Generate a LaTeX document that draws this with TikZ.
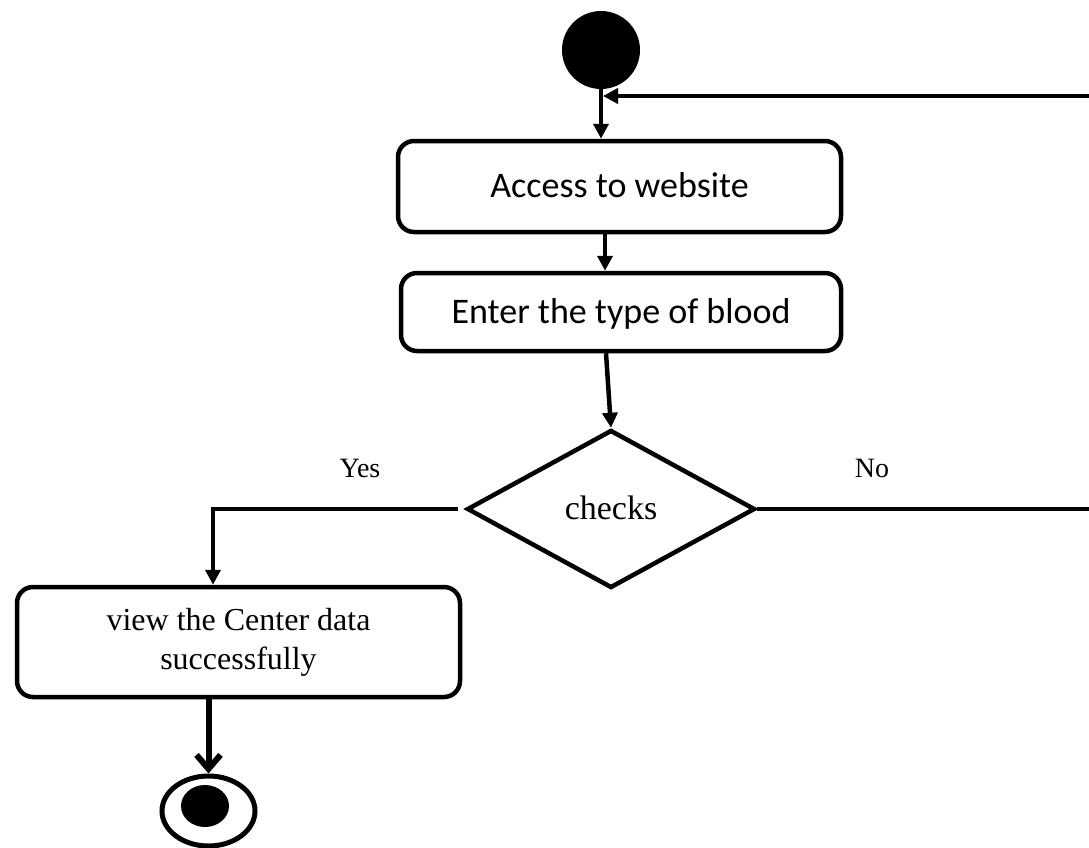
\documentclass[tikz,border=0pt]{standalone}
\usepackage{fontspec}
\setmainfont{Liberation Serif}
\newfontfamily\boxfont{Carlito}
\usetikzlibrary{shapes.geometric,arrows.meta}
\begin{document}
\begin{tikzpicture}[x=1pt,y=-1pt,
  act/.style={draw, line width=4.5pt, rounded corners=16pt, inner sep=0pt, align=center},
  topbox/.style={act, font=\boxfont\fontsize{36}{43}\selectfont, text depth=0.3em},
  flow/.style={line width=4.5pt, -{Triangle[length=15pt,width=15pt]}},
  plainline/.style={line width=4.5pt},
  endflow/.style={line width=6pt, -{Straight Barb[length=14pt,width=24pt]}},
  lbl/.style={font=\fontsize{28}{34}\selectfont, inner sep=0pt}
]
\useasboundingbox (0,0) rectangle (1089,847);

\node[circle, fill=black, minimum size=78pt, inner sep=0pt] (start) at (601,50) {};
\node[topbox, minimum width=443pt, minimum height=91pt] (a1) at (619.5,186.5) {Access to website};
\node[topbox, minimum width=440pt, minimum height=78pt] (a2) at (621,312) {Enter the type of blood};
\node[diamond, draw, line width=4.5pt, minimum width=288pt, minimum height=158pt, inner sep=0pt,
      font=\fontsize{34}{40}\selectfont, text depth=0.3em] (chk) at (611,509) {checks};
\node[act, minimum width=443pt, minimum height=110pt,
      font=\fontsize{32}{39}\selectfont] (a3) at (238.5,642) {view the Center data\\successfully};
\node[ellipse, draw, line width=5pt, minimum width=93pt, minimum height=70pt, inner sep=0pt] (fin) at (208.5,811) {};
\node[ellipse, fill=black, minimum width=48pt, minimum height=42pt, inner sep=0pt] (finin) at (205,806) {};

\node[lbl] (yes) at (360,468) {Yes};
\node[lbl] (no) at (872,468) {No};

\coordinate (rtlow) at (1089,509);
\coordinate (rthigh) at (1089,96);
\coordinate (loopin) at (603,96);

\draw[flow] (start.south) -- (start.south |- a1.north);
\draw[flow] ([xshift=-14.5pt]a1.south) -- ([xshift=-14.5pt]a1.south |- a2.north);
\draw[flow] ([xshift=-15pt]a2.south) -- (chk.north);
\draw[plainline] (chk.east) -- (rtlow);
\draw[flow] (rthigh) -- (loopin);
\draw[flow] ([xshift=-7pt]chk.west) -| ([xshift=-25.5pt]a3.north);
\draw[endflow] (fin.north |- a3.south) -- (fin.north);
\end{tikzpicture}
\end{document}
